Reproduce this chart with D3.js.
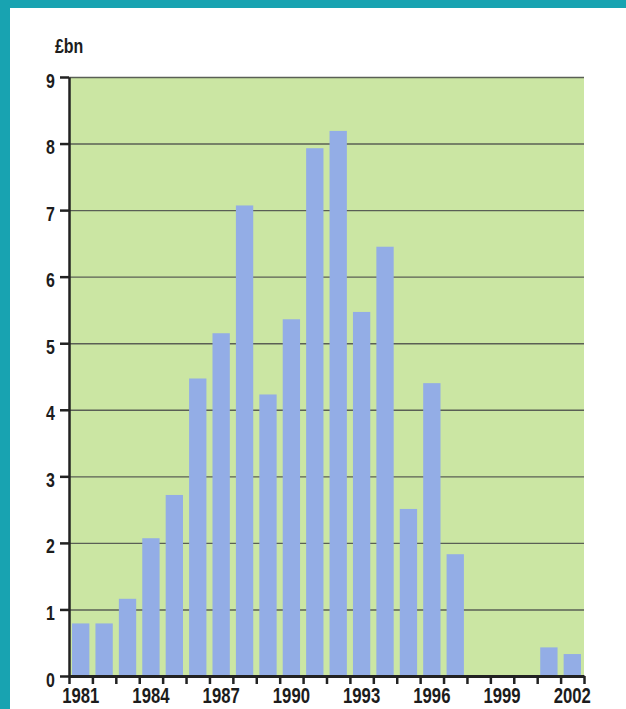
<!DOCTYPE html>
<html>
<head>
<meta charset="utf-8">
<script src="https://cdn.jsdelivr.net/npm/d3@7"></script>
<style>
  html, body { margin: 0; padding: 0; background: #fff; }
  svg { display: block; }
  .lbl { font-family: "Liberation Sans", Arial, sans-serif; font-weight: bold; fill: #1c1c1c; }
</style>
</head>
<body>
<div id="chart"></div>
<script>
// chart data
const years = d3.range(1981, 2003);
const values = [0.79, 0.79, 1.16, 2.07, 2.72, 4.47, 5.15, 7.07, 4.23, 5.36, 7.93,
                8.19, 5.47, 6.45, 2.51, 4.40, 1.83, 0, 0, 0, 0.43, 0.33];
const yTicks = [0, 1, 2, 3, 4, 5, 6, 7, 8, 9];
const xLabels = [1981, 1984, 1987, 1990, 1993, 1996, 1999, 2002];
const unitLabel = '£bn';

const W = 626, H = 709;
const margin = {top: 77, right: 42, bottom: 33, left: 69};
const width = W - margin.left - margin.right;
const height = H - margin.top - margin.bottom;

// squeeze text horizontally to mimic a condensed face
const K = 0.76;
function condense(sel) {
  sel.each(function() {
    const t = d3.select(this);
    const x0 = +t.attr('x') || 0;
    t.attr('x', x0 / K).attr('transform', `scale(${K},1)`);
  });
}

const svg = d3.select('#chart').append('svg')
  .attr('width', W)
  .attr('height', H);

// teal frame with white panel
svg.append('rect').attr('width', W).attr('height', H).attr('fill', '#18a3b1');
svg.append('rect').attr('x', 10).attr('y', 8).attr('width', W - 10).attr('height', H - 8).attr('fill', '#ffffff');

const g = svg.append('g').attr('transform', `translate(${margin.left},${margin.top})`);

const x = d3.scaleBand()
  .domain(years)
  .range([0, width])
  .paddingInner(0.26)
  .paddingOuter(0.13);

// boundaries between year slots, for the tick marks
const xb = d3.scaleLinear()
  .domain([1981, 2003])
  .range([0, width]);

const y = d3.scaleLinear()
  .domain([0, 9])
  .range([height, 0]);

// plot background
g.append('rect')
  .attr('width', width)
  .attr('height', height)
  .attr('fill', '#cbe6a3');

// gridlines
g.append('g')
  .call(d3.axisLeft(y).tickValues(yTicks.slice(1)).tickSize(-width).tickFormat(''))
  .call(a => a.select('.domain').remove())
  .call(a => a.selectAll('line').attr('stroke', '#5a5f55').attr('stroke-width', 1.4));

// bars
g.selectAll('.bar')
  .data(years.map((yr, i) => ({year: yr, value: values[i]})).filter(d => d.value > 0))
  .enter().append('rect')
  .attr('class', 'bar')
  .attr('x', d => x(d.year))
  .attr('width', x.bandwidth())
  .attr('y', d => y(d.value))
  .attr('height', d => height - y(d.value))
  .attr('fill', '#93ade6');

// y axis
g.append('g')
  .call(d3.axisLeft(y).tickValues(yTicks).tickSize(9).tickSizeOuter(0).tickPadding(5))
  .call(a => a.select('.domain').attr('stroke', '#222').attr('stroke-width', 2.5))
  .call(a => a.selectAll('line').attr('stroke', '#222').attr('stroke-width', 2.5))
  .call(a => a.selectAll('text').attr('class', 'lbl').attr('fill', null)
    .style('font-size', '21px').attr('dy', '0.48em').call(condense));

// x axis tick marks
g.append('g')
  .attr('transform', `translate(0,${height})`)
  .call(d3.axisBottom(xb).tickValues(d3.range(1981, 2004)).tickSize(8).tickSizeOuter(0).tickFormat(''))
  .call(a => a.select('.domain').attr('stroke', '#222').attr('stroke-width', 3))
  .call(a => a.selectAll('line').attr('stroke', '#222').attr('stroke-width', 2.5));

// x axis labels
g.append('g')
  .attr('transform', `translate(0,${height})`)
  .call(d3.axisBottom(x).tickValues(xLabels).tickSize(0).tickPadding(11))
  .call(a => a.select('.domain').remove())
  .call(a => a.selectAll('text').attr('class', 'lbl').attr('fill', null)
    .style('font-size', '22px').call(condense));

// unit label
svg.append('text')
  .attr('class', 'lbl')
  .attr('x', 55)
  .attr('y', 53)
  .style('font-size', '21px')
  .text(unitLabel)
  .call(condense);
</script>
</body>
</html>
